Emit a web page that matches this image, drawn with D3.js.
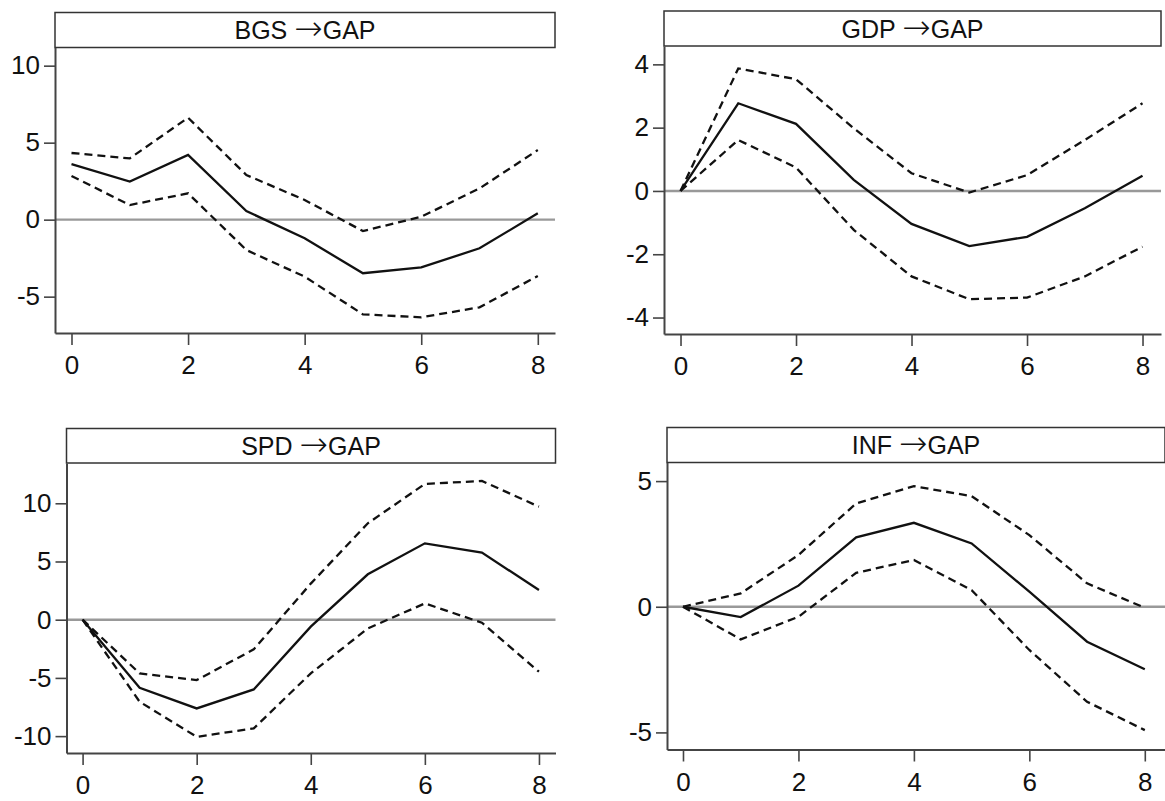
<!DOCTYPE html>
<html>
<head>
<meta charset="utf-8">
<script src="https://cdn.jsdelivr.net/npm/d3@7"></script>
<style>
  body { margin: 0; background: #fff; }
  svg { display: block; }
</style>
</head>
<body>
<div id="chart"></div>
<script>
// impulse responses, horizon 0..8
var steps = [0, 1, 2, 3, 4, 5, 6, 7, 8];
var shocks = ["BGS", "GDP", "SPD", "INF"];
var target = "GAP";

var bgsMid = [3.61, 2.47, 4.2, 0.56, -1.21, -3.48, -3.1, -1.86, 0.41];
var bgsUp = [4.33, 3.98, 6.62, 2.9, 1.28, -0.74, 0.19, 2.03, 4.52];
var bgsLo = [2.84, 0.95, 1.71, -1.97, -3.7, -6.15, -6.34, -5.69, -3.66];

var gdpMid = [0, 2.77, 2.12, 0.35, -1.04, -1.74, -1.45, -0.55, 0.48];
var gdpUp = [0, 3.87, 3.53, 1.98, 0.56, -0.05, 0.5, 1.61, 2.77];
var gdpLo = [0, 1.61, 0.74, -1.23, -2.7, -3.42, -3.37, -2.7, -1.76];

var spdMid = [0, -5.85, -7.62, -5.99, -0.6, 3.9, 6.56, 5.76, 2.55];
var spdUp = [0, -4.61, -5.19, -2.55, 3.1, 8.28, 11.66, 11.92, 9.71];
var spdLo = [0, -7.05, -10.06, -9.34, -4.61, -0.75, 1.4, -0.26, -4.47];

var infMid = [0, -0.41, 0.84, 2.76, 3.34, 2.52, 0.6, -1.39, -2.49];
var infUp = [0, 0.53, 2.06, 4.11, 4.8, 4.4, 2.85, 0.93, -0.04];
var infLo = [0, -1.3, -0.4, 1.35, 1.86, 0.66, -1.72, -3.78, -4.91];

var xTicks = [0, 2, 4, 6, 8];
var yTicks = [[-5, 0, 5, 10], [-4, -2, 0, 2, 4], [-10, -5, 0, 5, 10], [-5, 0, 5]];

var mids = [bgsMid, gdpMid, spdMid, infMid];
var ups = [bgsUp, gdpUp, spdUp, infUp];
var los = [bgsLo, gdpLo, spdLo, infLo];

// panel boxes (pixels) and axis domains
var panels = [
  { left: 55, right: 555, top: 12.5, plotTop: 47.5, bottom: 333, xd: [-0.283, 8.295], yd: [-7.36, 11.18] },
  { left: 664, right: 1161, top: 11, plotTop: 46, bottom: 334, xd: [-0.286, 8.32], yd: [-4.52, 4.58] },
  { left: 66.5, right: 555.5, top: 428.5, plotTop: 463, bottom: 753, xd: [-0.282, 8.29], yd: [-11.45, 13.46] },
  { left: 667, right: 1165, top: 427.5, plotTop: 462.5, bottom: 749.5, xd: [-0.277, 8.35], yd: [-5.68, 5.74] }
];

var w = 1165, h = 801;
var font = "'Liberation Sans', Arial, sans-serif";

var svg = d3.select("#chart").append("svg").attr("width", w).attr("height", h);

panels.forEach(function (p, k) {
  var x = d3.scaleLinear().domain(p.xd).range([p.left, p.right]);
  var y = d3.scaleLinear().domain(p.yd).range([p.bottom, p.plotTop]);
  var g = svg.append("g");

  // title strip
  g.append("rect")
    .attr("x", p.left)
    .attr("y", p.top)
    .attr("width", p.right - p.left)
    .attr("height", p.plotTop - p.top)
    .attr("fill", "#fff")
    .attr("stroke", "#333")
    .attr("stroke-width", 1.5);
  var t = g.append("text")
    .attr("x", (p.left + p.right) / 2)
    .attr("y", (p.top + p.plotTop) / 2)
    .attr("dy", "0.36em")
    .attr("text-anchor", "middle")
    .style("font-family", font)
    .style("font-size", "25px")
    .style("fill", "#111");
  t.append("tspan").text(shocks[k] + " ");
  t.append("tspan")
    .style("font-family", "'DejaVu Sans'")
    .style("font-weight", 200)
    .style("font-size", "34px")
    .attr("dy", "0.03em")
    .text("\u2192");
  t.append("tspan").attr("dy", "-0.03em").text(target);

  // zero line
  g.append("line")
    .attr("x1", p.left)
    .attr("x2", p.right)
    .attr("y1", y(0))
    .attr("y2", y(0))
    .attr("stroke", "#999")
    .attr("stroke-width", 2.4);

  var line = d3.line()
    .x(function (d, i) { return x(steps[i]); })
    .y(function (d) { return y(d); });

  [ups[k], los[k]].forEach(function (s) {
    g.append("path")
      .attr("d", line(s))
      .attr("fill", "none")
      .attr("stroke", "#111")
      .attr("stroke-width", 2.3)
      .attr("stroke-dasharray", "8,5");
  });
  g.append("path")
    .attr("d", line(mids[k]))
    .attr("fill", "none")
    .attr("stroke", "#111")
    .attr("stroke-width", 2.3);

  // axes
  var fmt = function (d) { return String(d); };
  var ax = g.append("g")
    .attr("transform", "translate(0," + p.bottom + ")")
    .call(d3.axisBottom(x).tickValues(xTicks).tickFormat(fmt).tickSize(12).tickSizeOuter(0).tickPadding(11));
  var ay = g.append("g")
    .attr("transform", "translate(" + p.left + ",0)")
    .call(d3.axisLeft(y).tickValues(yTicks[k]).tickFormat(fmt).tickSize(11).tickSizeOuter(0).tickPadding(4));

  [ax, ay].forEach(function (a) {
    a.select(".domain").attr("stroke", "#444").attr("stroke-width", 2);
    a.selectAll(".tick line").attr("stroke", "#444").attr("stroke-width", 1.6);
    a.selectAll(".tick text")
      .style("font-family", font)
      .style("font-size", "26px")
      .style("fill", "#111");
  });
});
</script>
</body>
</html>
